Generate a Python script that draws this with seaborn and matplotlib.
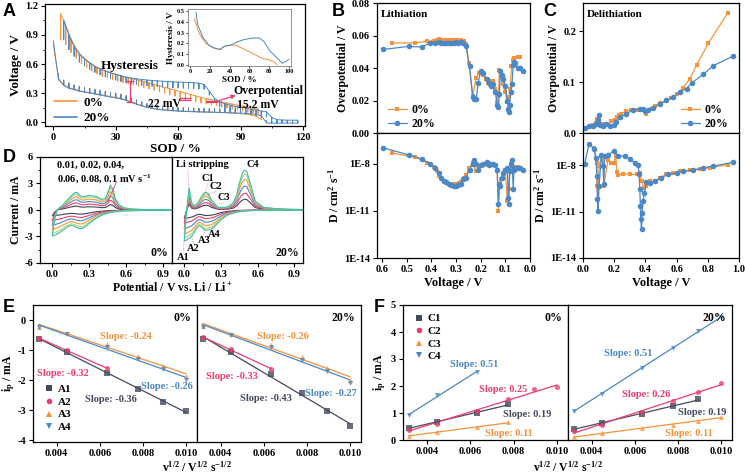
import numpy as np
import matplotlib
matplotlib.use("Agg")
import matplotlib.pyplot as plt
import seaborn as sns
from matplotlib.lines import Line2D
from matplotlib.ticker import AutoMinorLocator, NullLocator, FormatStrFormatter

# ---------------- DATA ----------------
# Panel A: GITT profiles (pulse positions, curve values, tooth heights)
sod_low_0 = [0, 2.5, 5, 7.5, 10, 12.5, 15, 17.5, 20, 22.5, 25, 27.5, 30, 32.5, 35, 37.5, 40, 42.5, 45, 47.5,
             50, 52.5, 55, 57.5, 60, 62.5, 65, 67.5, 70, 72.5, 75, 77.5, 80, 82.5, 85, 87.5, 90, 92.5, 95, 97.5, 100]
v_low_0 = [0.80, 0.45, 0.385, 0.355, 0.34, 0.325, 0.315, 0.305, 0.295, 0.285, 0.275, 0.265, 0.255, 0.245, 0.23,
           0.21, 0.19, 0.172, 0.157, 0.145, 0.137, 0.13, 0.125, 0.12, 0.117, 0.114, 0.112, 0.11, 0.108, 0.106,
           0.104, 0.102, 0.10, 0.098, 0.095, 0.092, 0.088, 0.083, 0.075, 0.06, 0.03]
tooth_low_0 = [0.0, 0.05, 0.05, 0.05, 0.045, 0.045, 0.045, 0.045, 0.045, 0.045, 0.045, 0.045, 0.045, 0.045, 0.045,
               0.04, 0.04, 0.04, 0.035, 0.035, 0.035, 0.035, 0.035, 0.035, 0.035, 0.035, 0.035, 0.035, 0.035, 0.035,
               0.035, 0.035, 0.035, 0.035, 0.035, 0.035, 0.035, 0.035, 0.035, 0.035, 0.03]
sod_low_20 = [0, 2.5, 5, 7.5, 10, 12.5, 15, 17.5, 20, 22.5, 25, 27.5, 30, 32.5, 35, 37.5, 40, 42.5, 45, 47.5,
              50, 52.5, 55, 57.5, 60, 62.5, 65, 67.5, 70, 72.5, 75, 77.5, 80, 82.5, 85, 87.5, 90, 92.5, 95, 97.5,
              100, 102.5, 105, 107.5, 110, 112.5, 115, 117.5]
v_low_20 = [0.84, 0.44, 0.38, 0.35, 0.335, 0.32, 0.31, 0.30, 0.29, 0.28, 0.27, 0.26, 0.25, 0.24, 0.225, 0.205,
            0.185, 0.168, 0.153, 0.14, 0.132, 0.126, 0.121, 0.117, 0.114, 0.111, 0.109, 0.107, 0.105, 0.104, 0.103,
            0.102, 0.10, 0.099, 0.097, 0.095, 0.093, 0.09, 0.086, 0.078, 0.065, -0.008, -0.01, -0.01, -0.01, -0.01,
            -0.01, -0.01]
tooth_low_20 = [0.0, 0.05, 0.05, 0.05, 0.045, 0.045, 0.045, 0.045, 0.045, 0.045, 0.045, 0.045, 0.045, 0.045, 0.045,
                0.04, 0.04, 0.04, 0.035, 0.035, 0.035, 0.035, 0.035, 0.035, 0.035, 0.035, 0.035, 0.035, 0.035, 0.035,
                0.035, 0.035, 0.035, 0.035, 0.035, 0.035, 0.035, 0.035, 0.035, 0.035, 0.03, 0.025, 0.025, 0.025,
                0.025, 0.025, 0.025, 0.025]
sod_up_0 = [3.5, 6, 8.5, 11, 13.5, 16, 18.5, 21, 23.5, 26, 28.5, 31, 33.5, 36, 38.5, 41, 43.5, 46, 48.5, 51, 53.5,
            56, 58.5, 61, 63.5, 66, 68.5, 71, 73.5, 76, 78.5, 81, 83.5, 86, 88.5, 91, 93.5, 96, 98.5]
v_up_0 = [1.12, 1.0, 0.86, 0.76, 0.69, 0.64, 0.6, 0.565, 0.54, 0.52, 0.5, 0.485, 0.47, 0.457, 0.445, 0.432, 0.42,
          0.405, 0.39, 0.375, 0.36, 0.345, 0.33, 0.315, 0.3, 0.285, 0.27, 0.255, 0.243, 0.232, 0.22, 0.208, 0.197,
          0.186, 0.175, 0.165, 0.155, 0.145, 0.135]
tooth_up_0 = [0.27, 0.2, 0.14, 0.1, 0.085, 0.075, 0.07, 0.065, 0.065, 0.06, 0.06, 0.06, 0.06, 0.06, 0.06, 0.06,
              0.06, 0.06, 0.06, 0.06, 0.06, 0.06, 0.06, 0.06, 0.06, 0.06, 0.055, 0.055, 0.055, 0.055, 0.05, 0.05,
              0.05, 0.05, 0.05, 0.05, 0.05, 0.05, 0.05]
sod_up_20 = [5, 7.5, 10, 12.5, 15, 17.5, 20, 22.5, 25, 27.5, 30, 32.5, 35, 37.5, 40, 42.5, 45, 47.5, 50, 52.5, 55,
             57.5, 60, 62.5, 65, 67.5, 70, 72.5, 75, 77.5, 80, 82.5, 85, 87.5, 90, 92.5, 95, 97.5, 100, 102.5, 105,
             107.5, 110, 112.5, 115, 117.5]
v_up_20 = [1.05, 0.9, 0.78, 0.7, 0.65, 0.61, 0.575, 0.55, 0.53, 0.51, 0.495, 0.48, 0.465, 0.455, 0.447, 0.44, 0.435,
           0.43, 0.426, 0.422, 0.419, 0.416, 0.414, 0.412, 0.41, 0.407, 0.402, 0.39, 0.32, 0.245, 0.21, 0.19, 0.175,
           0.162, 0.152, 0.143, 0.135, 0.125, 0.115, 0.105, 0.05, 0.025, 0.022, 0.02, 0.02, 0.02]
tooth_up_20 = [0.2, 0.15, 0.1, 0.08, 0.07, 0.065, 0.06, 0.06, 0.06, 0.06, 0.06, 0.06, 0.06, 0.06, 0.06, 0.06, 0.06,
               0.06, 0.06, 0.06, 0.06, 0.06, 0.06, 0.06, 0.06, 0.06, 0.06, 0.05, 0.04, 0.04, 0.05, 0.05, 0.05, 0.05,
               0.05, 0.05, 0.05, 0.05, 0.05, 0.05, 0.03, 0.02, 0.02, 0.02, 0.02, 0.02]
# inset hysteresis
ins_sod_0 = [4.4, 9.4, 16, 22.8, 29.5, 34.6, 39.6, 46, 53, 59.7, 66.4, 73, 80, 85, 88]
ins_h_0 = [0.43, 0.29, 0.2, 0.16, 0.144, 0.17, 0.184, 0.184, 0.153, 0.123, 0.092, 0.061, 0.046, 0.03, 0.0]
ins_sod_20 = [6, 7.7, 12.8, 19.5, 26, 31, 34.6, 41, 48, 54.7, 63, 70, 75, 80, 85, 90, 93, 96.6, 100]
ins_h_20 = [0.49, 0.38, 0.26, 0.18, 0.153, 0.144, 0.175, 0.184, 0.215, 0.236, 0.25, 0.25, 0.215, 0.138, 0.092,
            0.046, 0.015, 0.03, 0.052]

# Panel B: lithiation
b_v_0 = [0.56, 0.465, 0.418, 0.39, 0.378, 0.368, 0.358, 0.348, 0.338, 0.328, 0.318, 0.308, 0.298, 0.288, 0.278,
         0.268, 0.258, 0.248, 0.232, 0.218, 0.205, 0.19, 0.18, 0.17, 0.16, 0.15, 0.14, 0.133, 0.128, 0.124, 0.118,
         0.11, 0.10, 0.092, 0.086, 0.08, 0.075, 0.07, 0.065, 0.05, 0.04]
b_op_0 = [0.0553, 0.0555, 0.0564, 0.0568, 0.0575, 0.0576, 0.0574, 0.0572, 0.0573, 0.0572, 0.0571, 0.0572, 0.0573,
          0.0572, 0.0571, 0.0565, 0.055, 0.043, 0.023, 0.034, 0.037, 0.036, 0.033, 0.031, 0.032, 0.032, 0.027,
          0.019, 0.023, 0.039, 0.035, 0.03, 0.025, 0.019, 0.022, 0.027, 0.041, 0.045, 0.046, 0.047, 0.047]
b_logD_0 = [-7.33, -7.6, -7.95, -8.2, -8.5, -8.8, -9.0, -9.15, -9.25, -9.3, -9.3, -9.3, -9.3, -9.25, -9.15, -8.9,
            -8.7, -8.3, -7.95, -8.5, -8.2, -8.1, -8.0, -8.1, -8.0, -8.1, -8.1, -8.5, -11.0, -9.3, -9.0, -8.7, -8.4,
            -10.4, -9.6, -8.5, -8.0, -8.3, -8.2, -8.2, -8.3]
b_v_20 = [0.595, 0.492, 0.438, 0.407, 0.385, 0.37, 0.36, 0.35, 0.34, 0.33, 0.32, 0.31, 0.30, 0.29, 0.28, 0.27,
          0.26, 0.245, 0.232, 0.226, 0.218, 0.21, 0.20, 0.19, 0.175, 0.165, 0.16, 0.15, 0.14, 0.133, 0.128, 0.124,
          0.12, 0.115, 0.108, 0.10, 0.092, 0.088, 0.086, 0.083, 0.078, 0.073, 0.068, 0.065, 0.06, 0.05, 0.04, 0.03]
b_op_20 = [0.0514, 0.0533, 0.0529, 0.0553, 0.0555, 0.0557, 0.0556, 0.0555, 0.0553, 0.0555, 0.0556, 0.0555, 0.0557,
           0.0556, 0.0557, 0.0555, 0.0535, 0.041, 0.022, 0.021, 0.021, 0.031, 0.038, 0.037, 0.033, 0.031, 0.029,
           0.03, 0.025, 0.017, 0.016, 0.024, 0.038, 0.036, 0.033, 0.029, 0.02, 0.015, 0.013, 0.017, 0.025, 0.03,
           0.042, 0.044, 0.043, 0.04, 0.04, 0.038]
b_logD_20 = [-7.0, -7.45, -7.7, -8.0, -8.3, -8.6, -8.9, -9.1, -9.2, -9.3, -9.35, -9.45, -9.4, -9.35, -9.3, -9.0,
             -8.9, -8.4, -8.0, -7.8, -8.0, -8.4, -8.1, -8.0, -7.9, -8.1, -8.0, -8.0, -8.1, -8.4, -10.6, -9.3, -9.4,
             -8.9, -8.6, -8.4, -8.3, -10.2, -10.6, -8.5, -8.0, -7.75, -9.6, -8.4, -8.3, -8.3, -8.3, -8.4]

# Panel C: delithiation
c_v_op_0 = [0.043, 0.064, 0.081, 0.09, 0.103, 0.113, 0.139, 0.161, 0.182, 0.203, 0.218, 0.231, 0.246, 0.274, 0.31,
            0.353, 0.385, 0.403, 0.411, 0.433, 0.46, 0.493, 0.531, 0.567, 0.604, 0.642, 0.685, 0.728, 0.803, 0.927]
c_op_0 = [0.013, 0.015, 0.02, 0.028, 0.03, 0.018, 0.017, 0.018, 0.023, 0.025, 0.031, 0.035, 0.038, 0.043, 0.046,
          0.046, 0.045, 0.038, 0.043, 0.048, 0.053, 0.059, 0.063, 0.069, 0.076, 0.089, 0.106, 0.133, 0.176, 0.235]
c_v_op_20 = [0.011, 0.039, 0.064, 0.086, 0.096, 0.103, 0.111, 0.128, 0.15, 0.171, 0.197, 0.214, 0.236, 0.278,
             0.321, 0.364, 0.385, 0.396, 0.418, 0.45, 0.493, 0.535, 0.578, 0.621, 0.664, 0.696, 0.771, 0.835, 0.964]
c_op_20 = [0.01, 0.014, 0.013, 0.017, 0.025, 0.035, 0.015, 0.013, 0.017, 0.013, 0.015, 0.022, 0.031, 0.038, 0.045,
           0.048, 0.047, 0.043, 0.045, 0.05, 0.056, 0.064, 0.071, 0.081, 0.087, 0.098, 0.115, 0.132, 0.151]
c_v_D_0 = [0.071, 0.09, 0.09, 0.096, 0.103, 0.118, 0.133, 0.133, 0.16, 0.182, 0.197, 0.21, 0.218, 0.225, 0.257,
           0.3, 0.343, 0.364, 0.375, 0.39, 0.403, 0.411, 0.428, 0.46, 0.493, 0.535, 0.578, 0.621, 0.685, 0.75,
           0.814, 0.93]
c_logD_0 = [-6.9, -7.85, -9.35, -10.2, -8.06, -7.4, -7.5, -9.35, -7.64, -7.85, -7.85, -7.42, -8.45, -8.66, -8.54,
            -8.6, -8.6, -8.5, -9.03, -9.46, -9.35, -9.1, -9.03, -9.03, -8.81, -8.6, -8.49, -8.39, -8.34, -8.24,
            -8.17, -7.96]
c_v_D_20 = [0.011, 0.039, 0.069, 0.081, 0.09, 0.092, 0.096, 0.103, 0.118, 0.128, 0.133, 0.139, 0.161, 0.197,
            0.225, 0.268, 0.3, 0.332, 0.353, 0.36, 0.364, 0.368, 0.37, 0.375, 0.379, 0.385, 0.394, 0.407, 0.428,
            0.46, 0.503, 0.546, 0.6, 0.642, 0.707, 0.771, 0.835, 0.964]
c_logD_20 = [-7.9, -6.6, -6.93, -7.53, -8.7, -10.2, -10.96, -9.35, -7.34, -8.06, -9.24, -7.42, -7.34, -7.08,
             -7.38, -7.42, -7.59, -7.85, -8.02, -8.6, -9.56, -10.63, -11.5, -12.14, -11.06, -10.31, -9.78, -9.09,
             -9.14, -9.03, -8.81, -8.6, -8.49, -8.39, -8.32, -8.17, -8.06, -7.81]

# Panel D: CV profiles of the fastest scan and the relative size of each scan rate
cv_rates = ["0.01", "0.02", "0.04", "0.06", "0.08", "0.1"]
cv_pot = [0.0, 0.02, 0.04, 0.06, 0.08, 0.10, 0.12, 0.14, 0.16, 0.18, 0.20, 0.22, 0.24, 0.26, 0.28, 0.30, 0.33,
          0.36, 0.40, 0.43, 0.45, 0.47, 0.49, 0.51, 0.54, 0.58, 0.65, 0.75, 0.85, 1.0]
cv_ano_0 = [-2.9, -1.0, 0.0, 0.3, 0.5, 0.8, 1.1, 1.4, 1.7, 1.95, 2.0, 1.7, 1.5, 1.5, 1.6, 1.65, 1.6, 1.5, 1.2,
            1.3, 2.0, 2.8, 2.4, 1.3, 0.6, 0.25, 0.1, 0.05, 0.03, 0.02]
cv_cat_0 = [-2.95, -2.85, -2.7, -2.55, -2.35, -2.15, -1.95, -1.8, -1.75, -1.85, -2.0, -2.1, -2.1, -1.95, -1.75,
            -1.5, -1.2, -0.9, -0.6, -0.45, -0.35, -0.3, -0.25, -0.2, -0.15, -0.1, -0.08, -0.05, -0.03, -0.02]
cv_ano_20 = [-3.5, 0.0, 2.5, 0.8, 0.5, 0.6, 1.0, 1.5, 1.9, 2.0, 1.8, 1.2, 0.85, 0.5, 0.3, 0.3, 0.3, 0.4, 0.8, 1.8,
             3.0, 4.0, 4.5, 4.4, 3.0, 1.0, 0.3, 0.15, 0.08, 0.05]
cv_cat_20 = [-3.5, -3.4, -3.2, -3.0, -2.6, -2.1, -1.8, -1.9, -2.2, -2.3, -2.25, -2.15, -2.0, -1.7, -1.4, -1.1,
             -0.8, -0.55, -0.35, -0.25, -0.2, -0.15, -0.12, -0.1, -0.08, -0.05, -0.04, -0.03, -0.02, -0.02]
cv_scale_0 = [0.22, 0.4, 0.58, 0.75, 0.9, 1.0]
cv_scale_20 = [0.27, 0.42, 0.6, 0.77, 0.9, 1.0]

# Panels E/F: peak currents vs sqrt(scan rate)
sqrt_v = [0.00316, 0.00447, 0.00632, 0.00775, 0.00894, 0.01]
E0 = {"A1": [-0.62, -1.05, -1.75, -2.3, -2.72, -3.02], "A2": [-0.6, -1.0, -1.6],
      "A3": [-0.22, -0.44, -0.81, -1.18, -1.53, -1.87], "A4": [-0.24, -0.47, -0.89, -1.28, -1.64, -1.98]}
E20 = {"A1": [-0.64, -1.06, -1.8, -2.42, -3.02, -3.52], "A2": [-0.57, -0.97, -1.62],
       "A3": [-0.2, -0.45, -0.82, -1.22, -1.6, -2.0], "A4": [-0.23, -0.49, -0.9, -1.33, -1.7, -2.08]}
F0 = {"C1": [0.45, 0.66, 1.01, 1.32], "C2": [0.37, 0.6, 1.07, 1.53, 1.88, 1.95],
      "C3": [0.16, 0.29, 0.47, 0.65], "C4": [0.91, 1.65, 2.53]}
F20 = {"C1": [0.41, 0.64, 0.95, 1.25, 1.51], "C2": [0.32, 0.56, 1.03, 1.43, 1.78, 2.1],
       "C3": [0.12, 0.25, 0.44, 0.55, 0.7, 0.87], "C4": [1.07, 1.72, 2.66, 3.4, 4.03, 4.56]}
slopes_E0 = {"A3": "-0.24", "A2": "-0.32", "A4": "-0.26", "A1": "-0.36"}
slopes_E20 = {"A3": "-0.26", "A2": "-0.33", "A4": "-0.27", "A1": "-0.43"}
slopes_F0 = {"C4": "0.51", "C2": "0.25", "C1": "0.19", "C3": "0.11"}
slopes_F20 = {"C4": "0.51", "C2": "0.26", "C1": "0.19", "C3": "0.11"}

# ---------------- STYLE ----------------
sns.set_theme(style="ticks")
plt.rcParams.update({
    'font.family': ['Liberation Serif', 'DejaVu Serif'],
    'font.weight': 'bold', 'axes.labelweight': 'bold',
    'mathtext.fontset': 'custom', 'mathtext.rm': 'Liberation Serif:bold',
    'mathtext.it': 'Liberation Serif:bold', 'mathtext.bf': 'Liberation Serif:bold',
    'mathtext.default': 'rm', 'axes.unicode_minus': False,
    'axes.linewidth': 0.9, 'axes.edgecolor': 'black',
    'xtick.major.width': 0.8, 'ytick.major.width': 0.8, 'xtick.minor.width': 0.6, 'ytick.minor.width': 0.6,
    'xtick.major.size': 3, 'ytick.major.size': 3, 'xtick.minor.size': 1.6, 'ytick.minor.size': 1.6,
    'xtick.labelsize': 7.5, 'ytick.labelsize': 7.5, 'axes.labelsize': 8.5,
    'xtick.color': 'black', 'ytick.color': 'black', 'text.color': 'black', 'axes.labelcolor': 'black',
    'xtick.major.pad': 2, 'ytick.major.pad': 2, 'axes.labelpad': 2,
})

ORANGE = "#F7923A"
BLUE = "#4A88C8"
PINK = "#EC3D6C"
DARK = "#444A5E"
CV_COLORS = ["#3E4258", PINK, BLUE, ORANGE, "#A9D66C", "#3DBFAE"]
EF_COLORS = {"A1": DARK, "A2": PINK, "A3": ORANGE, "A4": BLUE, "C1": DARK, "C2": PINK, "C3": ORANGE, "C4": BLUE}
EF_MARK = {"A1": "s", "A2": "o", "A3": "^", "A4": "v", "C1": "s", "C2": "o", "C3": "^", "C4": "v"}

W, H = 745, 473
fig = plt.figure(figsize=(W / 100, H / 100), dpi=100)


def rect(x0, y0, x1, y1):
    return [x0 / W, 1 - y1 / H, (x1 - x0) / W, (y1 - y0) / H]


def line(ax, x, y, **kw):
    sns.lineplot(x=np.asarray(x, float), y=np.asarray(y, float), sort=False, estimator=None, ax=ax,
                 legend=False, **kw)


def comb(s, base, tooth, sign):
    s = np.asarray(s, float)
    b = np.asarray(base, float)
    t = b + sign * np.asarray(tooth, float)
    return np.repeat(s, 3), np.column_stack([b, t, b]).ravel()


def letter(x, y, t):
    fig.text(x / W, 1 - y / H, t, family='Liberation Sans', weight='bold', fontsize=13, va='center', ha='left')


# ---------------- PANEL A ----------------
axA = fig.add_axes(rect(45, 4, 305, 126))
for s, v, t, sg, c in [(sod_low_0, v_low_0, tooth_low_0, 1, ORANGE), (sod_up_0, v_up_0, tooth_up_0, -1, ORANGE),
                       (sod_low_20, v_low_20, tooth_low_20, 1, BLUE), (sod_up_20, v_up_20, tooth_up_20, -1, BLUE)]:
    xs, ys = comb(s, v, t, sg)
    line(axA, xs, ys, color=c, lw=0.7)
axA.set_xlim(-4, 121)
axA.set_ylim(-0.04, 1.22)
axA.set_xticks([0, 30, 60, 90, 120])
axA.set_yticks([0.0, 0.3, 0.6, 0.9, 1.2])
axA.yaxis.set_major_formatter(FormatStrFormatter('%.1f'))
axA.xaxis.set_minor_locator(AutoMinorLocator(2))
axA.yaxis.set_minor_locator(AutoMinorLocator(2))
axA.set_xlabel("SOD / %", fontsize=9.5, labelpad=1)
axA.set_ylabel("Voltage / V", fontsize=9.5)
axA.errorbar(37, 0.315, yerr=0.105, color=PINK, capsize=3, lw=0.9, capthick=0.9)
axA.errorbar(63.5, 0.237, yerr=0.012, color=PINK, capsize=4, lw=0.9, capthick=0.9)
axA.errorbar(76.5, 0.213, yerr=0.009, color=PINK, capsize=4, lw=0.9, capthick=0.9)
axA.annotate('', xy=(89, 0.285), xytext=(78.5, 0.215),
             arrowprops=dict(arrowstyle='-|>', color=PINK, lw=0.9, mutation_scale=6))
axA.text(36.5, 0.575, "Hysteresis", fontsize=9.5, ha='center', va='center')
axA.text(53.5, 0.19, "22 mV", fontsize=8.5, ha='center', va='center')
axA.text(103.5, 0.32, "Overpotential", fontsize=8.5, ha='center', va='center')
axA.text(98.5, 0.175, "15.2 mV", fontsize=8.5, ha='center', va='center')
axA.legend(handles=[Line2D([], [], color=ORANGE, lw=1.2), Line2D([], [], color=BLUE, lw=1.2)],
           labels=["0%", "20%"], loc='lower left', bbox_to_anchor=(-0.01, -0.085), frameon=False,
           fontsize=9.5, handlelength=1.7, handletextpad=0.5, labelspacing=0.25)

axI = fig.add_axes(rect(188, 9, 291, 66))
line(axI, ins_sod_0, ins_h_0, color=ORANGE, lw=0.7)
line(axI, ins_sod_20, ins_h_20, color=BLUE, lw=0.7)
axI.set_xlim(-2, 102)
axI.set_ylim(-0.01, 0.52)
axI.set_xticks([0, 20, 40, 60, 80, 100])
axI.set_yticks([0.0, 0.1, 0.2, 0.3, 0.4, 0.5])
axI.yaxis.set_major_formatter(FormatStrFormatter('%.1f'))
axI.tick_params(labelsize=4.5, length=1.5, width=0.5, pad=1)
for sp in axI.spines.values():
    sp.set_linewidth(0.5)
    sp.set_color('#666666')
axI.set_xlabel("SOD / %", fontsize=6.5, labelpad=1)
axI.set_ylabel("Hysteresis / V", fontsize=6.5, labelpad=1)
letter(3, 12, "A")


# ---------------- PANELS B & C ----------------
def gitt_pair(x0, x1, xlim, xticks, top_ylim, top_ticks, top_fmt, logtop, data, title, legend_loc, legend_anchor):
    ax1 = fig.add_axes(rect(x0, 3, x1, 133))
    ax2 = fig.add_axes(rect(x0, 133, x1, 258))
    (v0, op0, vd0, d0), (v2, op2, vd2, d2) = data
    line(ax1, v0, op0, color=ORANGE, lw=0.9, marker='s', markersize=3.5, markeredgewidth=0)
    line(ax1, v2, op2, color=BLUE, lw=0.9, marker='o', markersize=4, markeredgewidth=0)
    line(ax2, vd0, 10.0 ** np.asarray(d0), color=ORANGE, lw=0.9, marker='s', markersize=3.5, markeredgewidth=0)
    line(ax2, vd2, 10.0 ** np.asarray(d2), color=BLUE, lw=0.9, marker='o', markersize=4, markeredgewidth=0)
    for ax in (ax1, ax2):
        ax.set_xlim(*xlim)
        ax.set_xticks(xticks)
    ax1.set_ylim(*top_ylim)
    ax1.set_yticks(top_ticks)
    ax1.yaxis.set_major_formatter(FormatStrFormatter(top_fmt))
    ax1.tick_params(axis='x', bottom=False, labelbottom=False)
    ax1.set_ylabel("Overpotential / V", fontsize=8.5)
    ax1.text(0.025, 0.95, title, transform=ax1.transAxes, fontsize=8, ha='left', va='top')
    ax1.legend(handles=[Line2D([], [], color=ORANGE, lw=0.9, marker='s', markersize=3.5, markeredgewidth=0),
                        Line2D([], [], color=BLUE, lw=0.9, marker='o', markersize=4, markeredgewidth=0)],
               labels=["0%", "20%"], loc=legend_loc, bbox_to_anchor=legend_anchor, frameon=False, fontsize=8.5,
               handlelength=1.6, handletextpad=0.4, labelspacing=0.2)
    ax2.set_yscale('log')
    ax2.set_ylim(1e-14, 10 ** logtop)
    ax2.set_yticks([1e-14, 1e-11, 1e-8])
    ax2.set_yticklabels(["1E-14", "1E-11", "1E-8"])
    ax2.yaxis.set_minor_locator(NullLocator())
    ax2.xaxis.set_major_formatter(FormatStrFormatter('%.1f'))
    ax2.set_xlabel("Voltage / V", fontsize=9)
    ax2.set_ylabel("D / cm$^2$ s$^{-1}$", fontsize=8.5)
    return ax1, ax2


bx1, bx2 = gitt_pair(377, 530, (0.62, 0.0), [0.6, 0.5, 0.4, 0.3, 0.2, 0.1, 0.0], (0, 0.08),
                     [0.0, 0.02, 0.04, 0.06, 0.08], '%.2f', -6.06,
                     ((b_v_0, b_op_0, b_v_0, b_logD_0), (b_v_20, b_op_20, b_v_20, b_logD_20)),
                     "Lithiation", 'lower left', (0.0, -0.06))
cx1, cx2 = gitt_pair(583, 739, (0.0, 1.0), [0.0, 0.2, 0.4, 0.6, 0.8, 1.0], (0, 0.255), [0.0, 0.1, 0.2], '%.1f',
                     -5.92, ((c_v_op_0, c_op_0, c_v_D_0, c_logD_0), (c_v_op_20, c_op_20, c_v_D_20, c_logD_20)),
                     "Delithiation", 'lower right', (1.0, -0.06))
letter(332, 12, "B")
letter(543, 12, "C")

# ---------------- PANEL D ----------------
axD1 = fig.add_axes(rect(40, 157, 172, 263))
axD2 = fig.add_axes(rect(172, 157, 303, 263))
pot = np.asarray(cv_pot)
for ax, ano, cat, scales in [(axD1, cv_ano_0, cv_cat_0, cv_scale_0), (axD2, cv_ano_20, cv_cat_20, cv_scale_20)]:
    for c, sc in zip(CV_COLORS, scales):
        xs = np.concatenate([pot[::-1], pot])
        ys = np.concatenate([np.asarray(cat)[::-1] * sc, np.asarray(ano) * sc])
        line(ax, xs, ys, color=c, lw=0.8)
    ax.set_xlim(-0.1, 0.97)
    ax.set_ylim(-6, 6)
    ax.set_xticks([0.0, 0.3, 0.6, 0.9])
    ax.xaxis.set_major_formatter(FormatStrFormatter('%.1f'))
    ax.set_yticks([-6, -3, 0, 3, 6])
    ax.xaxis.set_minor_locator(AutoMinorLocator(2))
    ax.yaxis.set_minor_locator(AutoMinorLocator(2))
axD2.tick_params(axis='y', left=False, labelleft=False, which='both')
axD1.set_ylabel("Current / mA", fontsize=8.5)
axD1.text(0.04, 5.1, ", ".join(cv_rates[:3]) + ",", fontsize=7.5, ha='left', va='center')
axD1.text(0.04, 3.6, ", ".join(cv_rates[3:]) + " mV s$^{-1}$", fontsize=7.5, ha='left', va='center')
axD1.plot([0.52, 0.45], [3.2, 0.9], color=PINK, lw=0.6)
axD1.text(0.94, -5.5, "0%", fontsize=8.5, ha='right', va='bottom')
axD2.text(0.94, -5.5, "20%", fontsize=8.5, ha='right', va='bottom')
labs = [("Li stripping", 0.15, 5.2, 0.035, 2.4), ("C1", 0.195, 3.6, 0.16, 1.5), ("C2", 0.26, 2.7, 0.19, 1.7),
        ("C3", 0.32, 1.4, 0.24, 0.6), ("C4", 0.56, 5.2, None, None), ("A1", -0.01, -5.4, 0.0, -3.4),
        ("A2", 0.075, -4.4, 0.06, -2.8), ("A3", 0.16, -3.4, 0.17, -2.0), ("A4", 0.245, -2.8, 0.23, -1.9)]
for t, x, y, px, py in labs:
    axD2.text(x, y, t, fontsize=7.5, ha='center', va='center')
    if px is not None:
        sy = y - 0.6 if y > 0 else y + 0.6
        axD2.plot([x if t != "Li stripping" else 0.03, px], [sy, py], color=PINK, lw=0.5, ls=':')
fig.text(172 / W, 1 - 288 / H, "Potential / V vs. Li / Li$^+$", ha='center', va='center', fontsize=8.5)
letter(3, 157, "D")


# ---------------- PANELS E & F ----------------
def ef_panel(ax, data, slopes, slope_pos, tag, ylim, yticks, left):
    for k, vals in data.items():
        xs = np.asarray(sqrt_v[:len(vals)])
        sns.regplot(x=xs, y=np.asarray(vals), ax=ax, ci=None, truncate=True, color=EF_COLORS[k],
                    marker=EF_MARK[k], scatter_kws={'s': 13, 'linewidths': 0, 'zorder': 3},
                    line_kws={'lw': 0.9})
    for k, txt in slopes.items():
        x, y = slope_pos[k]
        ax.text(x, y, "Slope: " + txt, color=EF_COLORS[k], fontsize=7.5, ha='center', va='center')
    ax.set_xlim(0.0029, 0.0105)
    ax.set_ylim(*ylim)
    ax.set_xticks([0.004, 0.006, 0.008, 0.010])
    ax.xaxis.set_major_formatter(FormatStrFormatter('%.3f'))
    ax.set_yticks(yticks)
    ax.set_xlabel("")
    ax.text(0.965, 0.95, tag, transform=ax.transAxes, fontsize=8.5, ha='right', va='top')
    if not left:
        ax.tick_params(axis='y', left=False, labelleft=False)


axE1 = fig.add_axes(rect(33, 305, 197, 442))
axE2 = fig.add_axes(rect(197, 305, 361, 442))
ef_panel(axE1, E0, slopes_E0, {"A3": (0.0072, -0.55), "A2": (0.0043, -1.78), "A4": (0.0091, -2.2),
                               "A1": (0.0065, -2.63)}, "0%", (-4.05, 0.5), [0, -1, -2, -3, -4], True)
ef_panel(axE2, E20, slopes_E20, {"A3": (0.0069, -0.55), "A2": (0.0045, -1.87), "A4": (0.0091, -2.44),
                                 "A1": (0.0061, -2.6)}, "20%", (-4.05, 0.5), [0, -1, -2, -3, -4], False)
axE1.set_ylabel("i$_p$ / mA", fontsize=8.5)
axE1.yaxis.set_label_coords(-0.1, 0.5)
axE1.legend(handles=[Line2D([], [], ls='', marker=EF_MARK[k], color=EF_COLORS[k], markersize=4,
                            markeredgewidth=0) for k in E0],
            labels=list(E0), loc='lower left', bbox_to_anchor=(0.0, 0.0), frameon=False, fontsize=8,
            handletextpad=0.3, labelspacing=0.25, handlelength=1.0)
fig.text(197 / W, 1 - 467 / H, "v$^{1/2}$ / V$^{1/2}$ s$^{-1/2}$", ha='center', va='center', fontsize=8.5)
letter(3, 307, "E")

axF1 = fig.add_axes(rect(403, 305, 568, 440))
axF2 = fig.add_axes(rect(568, 305, 732, 440))
ef_panel(axF1, F0, slopes_F0, {"C4": (0.0062, 2.78), "C2": (0.0075, 1.88), "C1": (0.0086, 0.94),
                               "C3": (0.0078, 0.25)}, "0%", (0, 5), [0, 1, 2, 3, 4, 5], True)
ef_panel(axF2, F20, slopes_F20, {"C4": (0.0057, 3.19), "C2": (0.0065, 1.68), "C1": (0.0091, 1.03),
                                 "C3": (0.0085, 0.25)}, "20%", (0, 5), [0, 1, 2, 3, 4, 5], False)
axF1.set_ylabel("i$_p$ / mA", fontsize=8.5)
axF1.legend(handles=[Line2D([], [], ls='', marker=EF_MARK[k], color=EF_COLORS[k], markersize=4,
                            markeredgewidth=0) for k in F0],
            labels=list(F0), loc='upper left', bbox_to_anchor=(0.0, 1.01), frameon=False, fontsize=8,
            handletextpad=0.3, labelspacing=0.25, handlelength=1.0)
fig.text(568 / W, 1 - 467 / H, "v$^{1/2}$ / V$^{1/2}$ s$^{-1/2}$", ha='center', va='center', fontsize=8.5)
letter(374, 307, "F")

fig.savefig("out.png", dpi=100)
